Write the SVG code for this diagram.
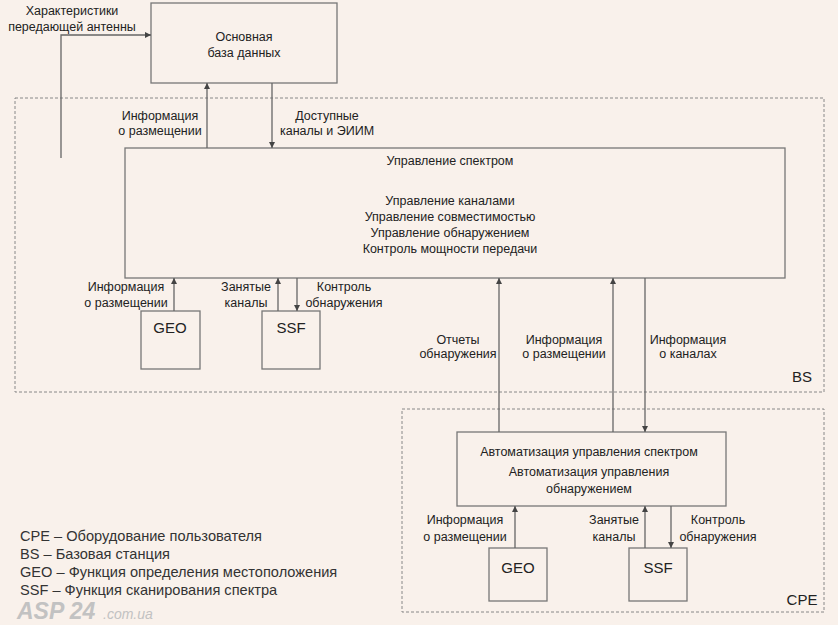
<svg xmlns="http://www.w3.org/2000/svg" width="838" height="625" viewBox="0 0 838 625">
<defs>
<marker id="ah" viewBox="0 0 10 10" refX="10" refY="5" markerWidth="6" markerHeight="6" markerUnits="userSpaceOnUse" orient="auto">
<path d="M0,0 L10,5 L0,10 z" fill="#444"/>
</marker>
<style>
.box{fill:none;stroke:#777;stroke-width:1.3}
.dash{fill:none;stroke:#888;stroke-width:1;stroke-dasharray:3,2}
.ar{fill:none;stroke:#666;stroke-width:1.3;marker-end:url(#ah)}
text{font-family:"Liberation Sans","Noto Sans",sans-serif;font-size:12.5px;fill:#222}
.c{text-anchor:middle}
.big{font-size:15px}
.leg{font-size:14.6px;fill:#333}
.wm{font-family:"Liberation Sans",sans-serif;font-style:italic;fill:#c2c2c2}
.wm1{font-size:23px;font-weight:bold}
.wm2{font-size:14px}
</style>
</defs>
<rect width="838" height="625" fill="#f9f1eb"/>

<g id="bs-area">
<rect class="dash" x="15" y="98" width="809" height="294"/>
<text class="big" x="802" y="382" text-anchor="middle">BS</text>
</g>
<g id="cpe-area">
<rect class="dash" x="402" y="409" width="422" height="203"/>
<text class="big" x="802" y="605" text-anchor="middle">CPE</text>
</g>

<g id="db">
<rect class="box" x="151" y="3" width="186" height="80"/>
<text class="c" x="244" y="41">Основная</text>
<text class="c" x="244" y="57">база данных</text>
</g>

<g id="spectrum-mgmt">
<rect class="box" x="125" y="148" width="660" height="130"/>
<text class="c" x="450" y="165">Управление спектром</text>
<text class="c" x="450" y="205">Управление каналами</text>
<text class="c" x="450" y="221">Управление совместимостью</text>
<text class="c" x="450" y="237">Управление обнаружением</text>
<text class="c" x="450" y="253">Контроль мощности передачи</text>
</g>

<g id="bs-geo">
<rect class="box" x="141" y="311" width="59" height="58"/>
<text class="c big" x="170" y="333">GEO</text>
</g>
<g id="bs-ssf">
<rect class="box" x="262" y="311" width="58" height="58"/>
<text class="c big" x="291" y="333">SSF</text>
</g>

<g id="cpe-mgmt">
<rect class="box" x="457" y="432" width="269" height="74"/>
<text class="c" x="589" y="456">Автоматизация управления спектром</text>
<text class="c" x="589" y="476">Автоматизация управления</text>
<text class="c" x="589" y="493">обнаружением</text>
</g>

<g id="cpe-geo">
<rect class="box" x="489" y="548" width="58" height="53"/>
<text class="c big" x="518" y="573">GEO</text>
</g>
<g id="cpe-ssf">
<rect class="box" x="629" y="548" width="58" height="53"/>
<text class="c big" x="658" y="573">SSF</text>
</g>

<g id="connectors">
<path class="ar" d="M61,158 V35 H151"/>
<path class="ar" d="M207,148 V83"/>
<path class="ar" d="M272,83 V148"/>
<path class="ar" d="M174,311 V278"/>
<path class="ar" d="M278,311 V278"/>
<path class="ar" d="M297,278 V311"/>
<path class="ar" d="M499,432 V278"/>
<path class="ar" d="M613,432 V278"/>
<path class="ar" d="M645,278 V432"/>
<path class="ar" d="M515,548 V506"/>
<path class="ar" d="M645,548 V506"/>
<path class="ar" d="M671,506 V548"/>
</g>

<g id="labels">
<text class="c" x="72" y="15">Характеристики</text>
<text class="c" x="72" y="31">передающей антенны</text>
<text class="c" x="160" y="120">Информация</text>
<text class="c" x="160" y="135">о размещении</text>
<text class="c" x="327" y="120">Доступные</text>
<text class="c" x="327" y="135">каналы и ЭИИМ</text>
<text class="c" x="126" y="291">Информация</text>
<text class="c" x="126" y="307">о размещении</text>
<text class="c" x="246" y="291">Занятые</text>
<text class="c" x="246" y="307">каналы</text>
<text class="c" x="344" y="291">Контроль</text>
<text class="c" x="344" y="307">обнаружения</text>
<text class="c" x="458" y="344">Отчеты</text>
<text class="c" x="458" y="358">обнаружения</text>
<text class="c" x="564" y="344">Информация</text>
<text class="c" x="564" y="358">о размещении</text>
<text class="c" x="688" y="344">Информация</text>
<text class="c" x="688" y="358">о каналах</text>
<text class="c" x="465" y="524">Информация</text>
<text class="c" x="465" y="541">о размещении</text>
<text class="c" x="614" y="524">Занятые</text>
<text class="c" x="614" y="541">каналы</text>
<text class="c" x="718" y="524">Контроль</text>
<text class="c" x="718" y="541">обнаружения</text>
</g>

<g id="legend">
<text class="leg" x="20" y="541">CPE – Оборудование пользователя</text>
<text class="leg" x="20" y="559">BS – Базовая станция</text>
<text class="leg" x="20" y="577">GEO – Функция определения местоположения</text>
<text class="leg" x="20" y="595">SSF – Функция сканирования спектра</text>
</g>

<g id="watermark">
<text class="wm wm1" x="17" y="619">ASP 24</text>
<text class="wm wm2" x="103" y="619">.com.ua</text>
</g>
</svg>
